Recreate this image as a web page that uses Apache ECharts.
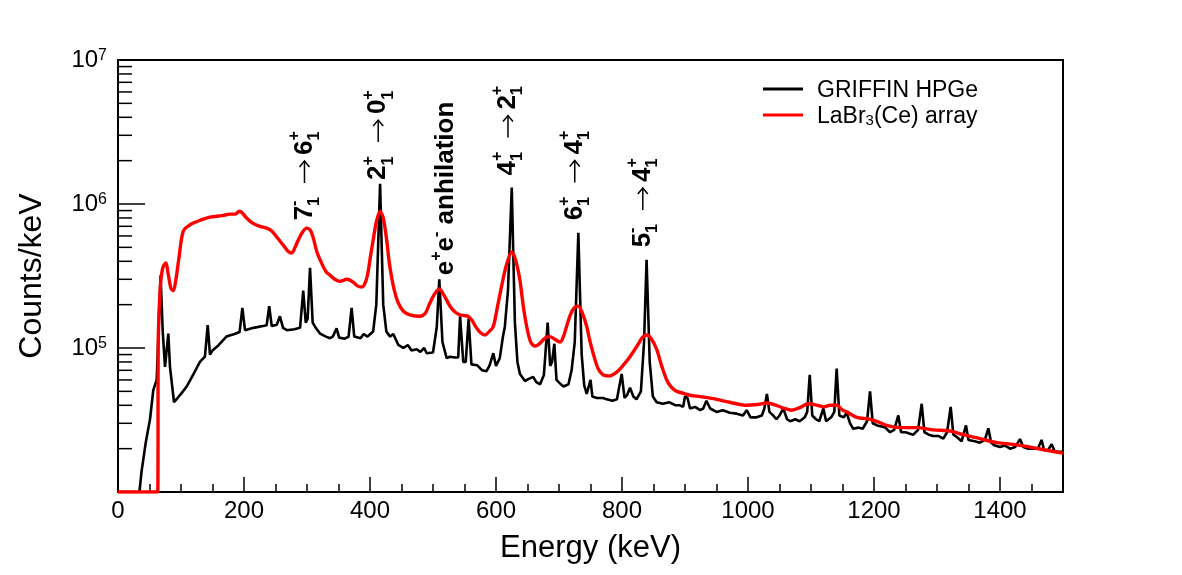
<!DOCTYPE html>
<html>
<head>
<meta charset="utf-8">
<script src="https://cdn.jsdelivr.net/npm/echarts/dist/echarts.min.js"></script>
<style>
  html, body { margin: 0; background: #fff; }
  #main { width: 1182px; height: 575px; }
</style>
</head>
<body>
<div id="main"></div>
<script>
var FONT = '"Liberation Sans", Arial, Helvetica, sans-serif';

// GRIFFIN HPGe spectrum [energy keV, counts/keV]
var hpgeSpectrum = [
  [0, 1e4], [34, 1e4], [37.5, 1.4e4], [44, 2.2e4], [50.8, 3.2e4], [56, 5.1e4], [61.4, 6e4],
  [64, 1.2e5], [67.6, 3.2e5], [71, 1.3e5], [74.6, 7.4e4], [79.9, 1.26e5], [82.5, 7.4e4],
  [88.9, 4.2e4], [100, 4.8e4], [109, 5.4e4], [120, 6.6e4], [130, 8e4], [138, 8.7e4],
  [142.4, 1.44e5], [146, 9e4], [150, 9.6e4], [160, 1.05e5], [172, 1.2e5], [185, 1.25e5],
  [193, 1.29e5], [197.4, 1.9e5], [201.6, 1.33e5], [215, 1.38e5], [230, 1.42e5], [236, 1.44e5],
  [240, 1.95e5], [244, 1.42e5], [252, 1.45e5], [257, 1.66e5], [262, 1.38e5], [268, 1.33e5],
  [280, 1.35e5], [289, 1.38e5], [294, 2.5e5], [298, 1.5e5], [301, 1.6e5], [304.8, 3.6e5],
  [309, 1.5e5], [313, 1.4e5], [320.6, 1.26e5], [330, 1.2e5], [336.5, 1.17e5], [341, 1.2e5],
  [347, 1.37e5], [351, 1.18e5], [360, 1.16e5], [366, 1.2e5], [370.8, 1.9e5], [375, 1.2e5],
  [385, 1.17e5], [390, 1.25e5], [396, 1.2e5], [405, 1.3e5], [410, 2.0e5], [416, 1.38e6],
  [421, 2.0e5], [426, 1.3e5], [432, 1.2e5], [437, 1.25e5], [445, 1.05e5], [453, 1e5],
  [460, 1.05e5], [466, 9.6e4], [474, 9.8e4], [480, 9.4e4], [486, 1.0e5], [490, 9.2e4],
  [500, 9.3e4], [506, 1.4e5], [510, 3.0e5], [515, 1.1e5], [521.7, 8.5e4], [527, 8.7e4],
  [535, 8.6e4], [540, 8.6e4], [543, 1.66e5], [548, 8e4], [552, 8e4], [556.5, 1.6e5],
  [561, 7.7e4], [570, 7.6e4], [578, 7e4], [585, 6.9e4], [590, 7.6e4], [595.7, 9.2e4],
  [600, 7.5e4], [606, 8.5e4], [611, 1.2e5], [614, 1.4e5], [619, 2.5e5], [625, 1.3e6],
  [630, 1.5e5], [634, 8e4], [638, 6.6e4], [646, 5.9e4], [652, 6.1e4], [659, 6.3e4],
  [664, 5.8e4], [670, 5.6e4], [676, 6.5e4], [682, 1.5e5], [686, 7.5e4], [689, 8e4],
  [692.6, 1.07e5], [696, 6e4], [701, 5.7e4], [707, 5.4e4], [715, 5.6e4], [720, 7e4],
  [725, 1.1e5], [730.7, 6.3e5], [736, 9e4], [740, 5.5e4], [744, 4.8e4], [750, 6e4],
  [753, 4.6e4], [760, 4.5e4], [770, 4.5e4], [775.7, 4.4e4], [785, 4.3e4], [792, 4.4e4],
  [796, 5.5e4], [799.5, 6.6e4], [804, 4.5e4], [808, 4.7e4], [812.7, 5.3e4], [818, 4.6e4],
  [823, 4.4e4], [830, 5e4], [835, 1.1e5], [839, 4.1e5], [844, 8e4], [849, 4.6e4],
  [855, 4.2e4], [865, 4.1e4], [875, 4.2e4], [885, 4e4], [892, 4e4], [897, 3.9e4],
  [900, 4.6e4], [904, 4.5e4], [908, 3.8e4], [916, 3.9e4], [924, 3.7e4], [929, 3.8e4],
  [934, 4.3e4], [940, 3.8e4], [950, 3.6e4], [960, 3.7e4], [971, 3.55e4], [982, 3.5e4],
  [992, 3.4e4], [998, 3.7e4], [1004, 3.3e4], [1013.8, 3.3e4], [1022, 3.4e4], [1026, 3.8e4],
  [1030, 4.8e4], [1034, 3.6e4], [1040, 3.4e4], [1045, 3.2e4], [1050, 3.4e4], [1056, 3.8e4],
  [1062, 3.2e4], [1067, 3.1e4], [1075, 3.2e4], [1082, 3.1e4], [1090, 3.3e4], [1094, 3.6e4],
  [1098, 6.5e4], [1102, 3.4e4], [1108, 3.2e4], [1113, 3.1e4], [1119.6, 3.8e4], [1124, 3.1e4],
  [1132, 3.3e4], [1137, 3.6e4], [1140.7, 7.2e4], [1145, 3.4e4], [1152, 3.3e4], [1156.6, 3.55e4],
  [1162, 3e4], [1167, 2.75e4], [1175, 2.8e4], [1182, 2.75e4], [1189, 3.1e4], [1193.7, 5e4],
  [1198, 3e4], [1205, 2.9e4], [1212, 2.85e4], [1218, 2.8e4], [1225.4, 2.6e4], [1232, 2.7e4],
  [1238.6, 3.4e4], [1243, 2.6e4], [1250, 2.6e4], [1256, 2.55e4], [1262.4, 2.5e4], [1270, 2.7e4],
  [1275.7, 4.1e4], [1280, 2.6e4], [1287, 2.5e4], [1294, 2.45e4], [1302, 2.45e4], [1310, 2.35e4],
  [1316, 2.6e4], [1321.7, 3.9e4], [1326, 2.5e4], [1332, 2.4e4], [1339, 2.25e4], [1346, 2.9e4],
  [1350, 2.3e4], [1360, 2.25e4], [1368, 2.2e4], [1376, 2.3e4], [1381.5, 2.77e4], [1386, 2.2e4],
  [1392, 2.1e4], [1400, 2.05e4], [1408, 2.1e4], [1416, 2.0e4], [1424, 2.05e4], [1431.7, 2.33e4],
  [1437, 2.05e4], [1445, 2.0e4], [1453, 2.0e4], [1460, 2.0e4], [1466, 2.3e4], [1470, 1.95e4],
  [1476, 1.95e4], [1482, 2.15e4], [1487, 1.9e4], [1493, 1.9e4], [1500, 1.9e4]
];

// LaBr3(Ce) array spectrum [energy keV, counts/keV]
var labrSpectrum = [
  [0, 1e4], [63, 1e4], [64, 1.2e5], [67, 2.6e5], [71, 3.6e5], [75.7, 3.9e5], [80, 3.2e5],
  [84, 2.6e5], [87.8, 2.5e5], [92, 3.0e5], [97, 4.3e5], [103.7, 6.5e5], [115, 7.2e5],
  [130, 7.7e5], [146, 8.1e5], [165, 8.3e5], [178, 8.5e5], [186, 8.5e5], [192.6, 8.9e5],
  [197, 8.7e5], [204, 8.0e5], [215, 7.3e5], [225, 7.0e5], [236, 6.8e5], [244, 6.5e5],
  [252, 5.9e5], [262, 5.2e5], [270, 4.7e5], [275.7, 4.57e5], [281, 5e5], [286, 5.6e5],
  [293, 6.4e5], [299.5, 6.8e5], [305, 6.6e5], [310, 5.8e5], [316, 4.6e5], [323, 3.9e5],
  [330, 3.4e5], [336.5, 3.2e5], [344, 3.0e5], [352, 2.9e5], [358, 2.95e5], [363, 3.0e5],
  [369, 2.95e5], [374, 2.85e5], [380, 2.7e5], [386.8, 2.65e5], [391, 2.75e5], [396, 3.2e5],
  [401, 4.4e5], [405, 5.6e5], [410, 7.5e5], [416, 8.9e5], [421, 8.0e5], [426.5, 5.6e5],
  [431, 3.8e5], [437, 2.7e5], [444, 2.1e5], [453, 1.8e5], [463.5, 1.7e5], [479, 1.66e5],
  [488, 1.75e5], [495, 2.05e5], [502, 2.35e5], [510, 2.57e5], [518, 2.3e5], [527, 1.95e5],
  [535, 1.78e5], [543, 1.7e5], [550, 1.68e5], [556, 1.66e5], [562, 1.55e5], [569, 1.38e5],
  [576, 1.27e5], [582.5, 1.23e5], [589, 1.3e5], [595.7, 1.41e5], [602, 1.9e5], [609, 2.7e5],
  [616, 3.7e5], [625, 4.65e5], [631, 4.1e5], [638, 2.95e5], [643, 2.0e5], [648.7, 1.41e5],
  [655, 1.1e5], [662, 1.03e5], [668, 1.06e5], [675, 1.14e5], [680, 1.19e5], [685.7, 1.2e5],
  [692, 1.16e5], [701.6, 1.1e5], [707, 1.2e5], [712, 1.41e5], [718, 1.7e5], [724, 1.9e5],
  [730.7, 1.95e5], [737, 1.75e5], [744, 1.41e5], [749, 1.12e5], [754.5, 9.1e4], [762, 7.2e4],
  [770, 6.5e4], [780, 6.4e4], [791.6, 6.8e4], [802, 7.6e4], [812.7, 8.7e4], [825, 1.05e5],
  [832, 1.18e5], [839, 1.23e5], [846, 1.17e5], [855, 9.8e4], [863, 7.5e4], [871, 6e4],
  [879, 5.3e4], [887, 5e4], [897, 4.85e4], [908, 4.7e4], [924, 4.6e4], [945, 4.45e4],
  [971, 4.2e4], [998, 4e4], [1015, 4.05e4], [1030, 4.15e4], [1045, 4e4], [1058, 3.8e4],
  [1069, 3.7e4], [1082, 3.85e4], [1096, 4.1e4], [1110, 4e4], [1120, 3.9e4], [1130, 4e4],
  [1141, 4.0e4], [1150, 3.7e4], [1156.6, 3.6e4], [1172.5, 3.3e4], [1193.7, 3.2e4],
  [1208, 3.05e4], [1220, 2.9e4], [1241, 2.8e4], [1268, 2.8e4], [1294, 2.7e4],
  [1320.6, 2.65e4], [1342, 2.5e4], [1368, 2.35e4], [1395, 2.2e4], [1421, 2.14e4],
  [1447.6, 2.05e4], [1474, 1.95e4], [1500, 1.86e4]
];

var seriesNames = ['GRIFFIN HPGe', 'LaBr3(Ce) array'];

// log axis minor ticks (2..9 per decade)
var yMinorTicks = [
  2e4, 3e4, 4e4, 5e4, 6e4, 7e4, 8e4, 9e4,
  2e5, 3e5, 4e5, 5e5, 6e5, 7e5, 8e5, 9e5,
  2e6, 3e6, 4e6, 5e6, 6e6, 7e6, 8e6, 9e6
];

// transition labels: anchor = start of the (vertical) text
var labelEnergy = [296, 413, 521, 619, 725, 833];
var labelCounts = [7.7e5, 1.47e6, 3.2e5, 1.58e6, 7.7e5, 5.0e5];
// m = main text, s = super+sub stacked, p = superscript only, a = arrow
var labelTokens = [
  [['m', '7'], ['s', '-', '1'], ['a'], ['m', '6'], ['s', '+', '1']],
  [['m', '2'], ['s', '+', '1'], ['a'], ['m', '0'], ['s', '+', '1']],
  [['m', 'e'], ['p', '+'], ['m', 'e'], ['p', '-'], ['m', ' anhilation']],
  [['m', '4'], ['s', '+', '1'], ['a'], ['m', '2'], ['s', '+', '1']],
  [['m', '6'], ['s', '+', '1'], ['a'], ['m', '4'], ['s', '+', '1']],
  [['m', '5'], ['s', '-', '1'], ['a'], ['m', '4'], ['s', '+', '1']]
];

var MAIN = 26, SCRIPT = 16;
var measureCtx = document.createElement('canvas').getContext('2d');
function textW(str, size) {
  measureCtx.font = 'bold ' + size + 'px ' + FONT;
  return measureCtx.measureText(str).width;
}
function txt(str, x, y, size) {
  return {
    type: 'text', x: x, y: y,
    style: { text: str, fontSize: size, fontWeight: 'bold', fontFamily: FONT,
             fill: '#000', align: 'left', verticalAlign: 'middle' }
  };
}

function renderLabel(params, api) {
  var p = api.coord([api.value(0), api.value(1)]);
  var toks = labelTokens[params.dataIndex];
  var children = [];
  var x = 0;
  toks.forEach(function (t) {
    if (t[0] === 'm') {
      children.push(txt(t[1], x, 0, MAIN));
      x += textW(t[1], MAIN);
    } else if (t[0] === 's') {
      children.push(txt(t[1], x, -10, SCRIPT));
      children.push(txt(t[2], x, 10, SCRIPT));
      x += Math.max(textW(t[1], SCRIPT), textW(t[2], SCRIPT));
    } else if (t[0] === 'p') {
      children.push(txt(t[1], x, -10, SCRIPT));
      x += textW(t[1], SCRIPT);
    } else {
      x += 14;
      children.push({
        type: 'polyline',
        shape: { points: [[x, 0], [x + 22, 0]] },
        style: { stroke: '#000', lineWidth: 1.5, fill: null }
      });
      children.push({
        type: 'polyline',
        shape: { points: [[x + 16, -5], [x + 22, 0], [x + 16, 5]] },
        style: { stroke: '#000', lineWidth: 1.5, fill: null }
      });
      x += 28;
    }
  });
  return { type: 'group', x: p[0], y: p[1], rotation: Math.PI / 2, children: children };
}

var myChart = echarts.init(document.getElementById('main'));
var option = {
  animation: false,
  backgroundColor: '#fff',
  grid: {
    left: 118, right: 119, top: 60, bottom: 83,
    show: true, borderColor: '#000', borderWidth: 2,
    containLabel: false, outerBoundsMode: 'none'
  },
  legend: {
    orient: 'vertical',
    left: 758, top: 74,
    icon: 'rect',
    itemWidth: 40, itemHeight: 3, itemGap: 3,
    data: seriesNames,
    formatter: function (name) {
      if (name === 'LaBr3(Ce) array') return '{n|LaBr}{s|3}{n|(Ce) array}';
      return '{n|' + name + '}';
    },
    textStyle: {
      padding: [0, 0, 0, 9],
      rich: {
        n: { fontSize: 23, fontFamily: FONT, color: '#000', lineHeight: 26, verticalAlign: 'bottom' },
        s: { fontSize: 15, fontFamily: FONT, color: '#000', lineHeight: 8, verticalAlign: 'bottom' }
      }
    }
  },
  xAxis: [{
    type: 'value',
    min: 0, max: 1500, interval: 200,
    name: 'Energy (keV)',
    nameLocation: 'middle',
    nameGap: 41,
    nameMoveOverlap: false,
    nameTextStyle: { fontSize: 31, fontFamily: FONT, color: '#000' },
    axisLine: { lineStyle: { color: '#000', width: 2 } },
    axisTick: { inside: true, length: 15, lineStyle: { color: '#000', width: 1.5 } },
    axisLabel: {
      fontSize: 24, fontFamily: FONT, color: '#000', margin: 7, showMaxLabel: false,
      formatter: function (v) { return String(v); }
    },
    splitLine: { show: false }
  }, {
    type: 'value',
    position: 'bottom',
    min: 0, max: 1500, interval: 50,
    axisLine: { show: false },
    axisTick: { inside: true, length: 8, lineStyle: { color: '#000', width: 1.5 } },
    axisLabel: { show: false },
    splitLine: { show: false }
  }],
  yAxis: {
    type: 'log',
    logBase: 10,
    min: 1e4, max: 1e7,
    name: 'Counts/keV',
    nameLocation: 'middle',
    nameGap: 70,
    nameMoveOverlap: false,
    nameTextStyle: { fontSize: 32, fontFamily: FONT, color: '#000' },
    axisLine: { lineStyle: { color: '#000', width: 2 } },
    axisTick: { inside: true, length: 27, lineStyle: { color: '#000', width: 1.5 } },
    axisLabel: {
      margin: 11,
      formatter: function (v) {
        var e = Math.round(Math.log(v) / Math.LN10);
        if (e <= 4) return '';
        return '{b|10}{e|' + e + '}';
      },
      rich: {
        b: { fontSize: 24, fontFamily: FONT, color: '#000', lineHeight: 24, verticalAlign: 'middle' },
        e: { fontSize: 16, fontFamily: FONT, color: '#000', lineHeight: 12, verticalAlign: 'top' }
      }
    },
    splitLine: { show: false }
  },
  series: [
    {
      name: seriesNames[0],
      type: 'line',
      data: hpgeSpectrum,
      symbol: 'none',
      lineStyle: { color: '#000', width: 2.6 },
      itemStyle: { color: '#000' },
      z: 3
    },
    {
      name: seriesNames[1],
      type: 'line',
      data: labrSpectrum,
      symbol: 'none',
      smooth: 0.3,
      lineStyle: { color: '#ff0000', width: 3.4 },
      itemStyle: { color: '#ff0000' },
      z: 4
    },
    {
      type: 'custom',
      name: 'yminor',
      data: yMinorTicks.map(function (v) { return [0, v]; }),
      clip: false,
      silent: true,
      z: 5,
      renderItem: function (params, api) {
        var p = api.coord([0, api.value(1)]);
        return {
          type: 'line',
          shape: { x1: p[0], y1: p[1], x2: p[0] + 14, y2: p[1] },
          style: { stroke: '#000', lineWidth: 1.5 }
        };
      }
    },
    {
      type: 'custom',
      name: 'labels',
      data: labelEnergy.map(function (e, i) { return [e, labelCounts[i]]; }),
      clip: false,
      silent: true,
      z: 6,
      renderItem: renderLabel
    }
  ]
};
myChart.setOption(option);
</script>
</body>
</html>
